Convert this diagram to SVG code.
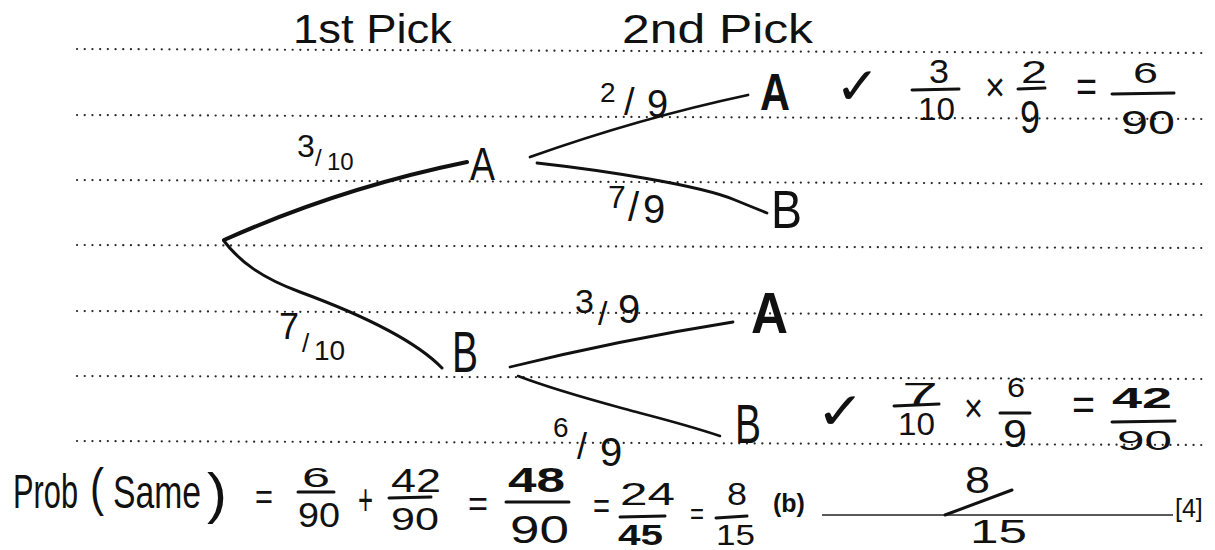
<svg xmlns="http://www.w3.org/2000/svg" width="1215" height="550" viewBox="0 0 1215 550">
<style>
.dot{stroke:#2a2a2a;stroke-width:2.2;stroke-linecap:round;stroke-dasharray:0.1 7.6;fill:none}
.br{stroke:#111;fill:none;stroke-linecap:round;stroke-linejoin:round}
.hw{font-family:"Liberation Sans",Arial,sans-serif;fill:#111}
.bar{stroke:#111;stroke-width:3;stroke-linecap:round}
.pr{font-family:"Liberation Sans",Arial,sans-serif;fill:#111}
.ck{font-family:"DejaVu Sans",sans-serif;fill:#111}
</style>
<rect width="1215" height="550" fill="#ffffff"/>
<g id="ruled-lines">
<line class="dot" x1="77" y1="49" x2="1202" y2="53"/>
<line class="dot" x1="77" y1="115" x2="1202" y2="119"/>
<line class="dot" x1="77" y1="180" x2="1202" y2="184"/>
<line class="dot" x1="77" y1="245" x2="1202" y2="248"/>
<line class="dot" x1="77" y1="311" x2="1202" y2="315"/>
<line class="dot" x1="77" y1="376" x2="1202" y2="379"/>
<line class="dot" x1="77" y1="441" x2="1202" y2="445"/>
</g>
<g id="headings">
<text class="hw" x="293" y="43" font-size="41" textLength="159" lengthAdjust="spacingAndGlyphs">1st Pick</text>
<text class="hw" x="622" y="43" font-size="41" textLength="191" lengthAdjust="spacingAndGlyphs">2nd Pick</text>
</g>
<g id="connectors">
<path class="br" stroke-width="4" d="M224,240 Q340,188 467,162"/>
<path class="br" stroke-width="3" d="M224,241 C240,262 262,278 300,292 S410,335 442,368"/>
<path class="br" stroke-width="2.8" d="M530,157 Q640,118 748,95"/>
<path class="br" stroke-width="2.8" d="M537,163 C600,170 700,185 735,200 Q752,207 767,213"/>
<path class="br" stroke-width="2.8" d="M510,367 Q620,340 733,322"/>
<path class="br" stroke-width="2.5" d="M518,376 C560,392 600,402 640,413 Q690,426 720,436"/>
<text class="hw"><tspan x="297" y="157" font-size="32">3</tspan><tspan x="315" y="166" font-size="24">/</tspan><tspan x="327" y="170" font-size="24">10</tspan></text>
<text class="hw"><tspan x="279" y="339" font-size="36">7</tspan><tspan x="302" y="352" font-size="26">/</tspan><tspan x="314" y="360" font-size="28">10</tspan></text>
<text class="hw"><tspan x="600" y="102" font-size="28">2</tspan><tspan x="624" y="115" font-size="38">/</tspan><tspan x="647" y="117" font-size="38">9</tspan></text>
<text class="hw"><tspan x="608" y="208" font-size="32">7</tspan><tspan x="628" y="221" font-size="40">/</tspan><tspan x="643" y="223" font-size="40">9</tspan></text>
<text class="hw"><tspan x="575" y="313" font-size="34">3</tspan><tspan x="598" y="325" font-size="34">/</tspan><tspan x="618" y="323" font-size="40">9</tspan></text>
<text class="hw"><tspan x="553" y="437" font-size="28">6</tspan><tspan x="577" y="459" font-size="36">/</tspan><tspan x="600" y="466" font-size="40">9</tspan></text>
</g>
<g id="node-A1"><text class="hw" x="470" y="180" font-size="46" textLength="25" lengthAdjust="spacingAndGlyphs">A</text></g>
<g id="node-B1"><text class="hw" x="452" y="372" font-size="58" textLength="26" lengthAdjust="spacingAndGlyphs">B</text></g>
<g id="node-A2"><text class="hw" x="760" y="110" font-size="52" font-weight="bold" textLength="30" lengthAdjust="spacingAndGlyphs">A</text></g>
<g id="node-B2"><text class="hw" x="771" y="228" font-size="54" textLength="31" lengthAdjust="spacingAndGlyphs">B</text></g>
<g id="node-A3"><text class="hw" x="751" y="333" font-size="58" font-weight="bold" textLength="37" lengthAdjust="spacingAndGlyphs">A</text></g>
<g id="node-B3"><text class="hw" x="735" y="443" font-size="56" textLength="26" lengthAdjust="spacingAndGlyphs">B</text></g>
<g id="calc-AA">
<text class="ck" x="835" y="104" font-size="52" textLength="45" lengthAdjust="spacingAndGlyphs">✓</text>
<text class="hw" x="929" y="83" font-size="33" textLength="20" lengthAdjust="spacingAndGlyphs">3</text>
<line class="bar" x1="912" y1="90" x2="959" y2="89"/>
<text class="hw" x="918" y="120" font-size="31" textLength="37" lengthAdjust="spacingAndGlyphs">10</text>
<text class="hw" x="985" y="101" font-size="40" textLength="20" lengthAdjust="spacingAndGlyphs">×</text>
<text class="hw" x="1021" y="83" font-size="31" textLength="26" lengthAdjust="spacingAndGlyphs">2</text>
<line class="bar" x1="1018" y1="89" x2="1045" y2="88"/>
<text class="hw" x="1020" y="133" font-size="46" textLength="20" lengthAdjust="spacingAndGlyphs">9</text>
<text class="hw" x="1076" y="102" font-size="44" textLength="21" lengthAdjust="spacingAndGlyphs">=</text>
<text class="hw" x="1133" y="83" font-size="30" textLength="25" lengthAdjust="spacingAndGlyphs">6</text>
<line class="bar" stroke-width="3.5" x1="1112" y1="94" x2="1174" y2="93"/>
<text class="hw" x="1121" y="134" font-size="34" textLength="54" lengthAdjust="spacingAndGlyphs">90</text>
</g>
<g id="calc-BB">
<text class="ck" x="816" y="429" font-size="52" textLength="49" lengthAdjust="spacingAndGlyphs">✓</text>
<text class="hw" x="902" y="405" font-size="31" textLength="36" lengthAdjust="spacingAndGlyphs">7</text>
<line class="bar" x1="894" y1="406" x2="939" y2="404"/>
<text class="hw" x="898" y="435" font-size="31" textLength="37" lengthAdjust="spacingAndGlyphs">10</text>
<text class="hw" x="964" y="422" font-size="40" textLength="19" lengthAdjust="spacingAndGlyphs">×</text>
<text class="hw" x="1007" y="397" font-size="28" textLength="18" lengthAdjust="spacingAndGlyphs">6</text>
<line class="bar" x1="1000" y1="413" x2="1030" y2="413"/>
<text class="hw" x="1003" y="447" font-size="38" textLength="24" lengthAdjust="spacingAndGlyphs">9</text>
<text class="hw" x="1072" y="420" font-size="44" textLength="23" lengthAdjust="spacingAndGlyphs">=</text>
<text class="hw" x="1112" y="408" font-size="30" font-weight="bold" textLength="60" lengthAdjust="spacingAndGlyphs">42</text>
<line class="bar" stroke-width="3.5" x1="1112" y1="422" x2="1175" y2="421"/>
<text class="hw" x="1117" y="450" font-size="28" textLength="55" lengthAdjust="spacingAndGlyphs">90</text>
</g>
<g id="final-sum">
<text class="hw"><tspan x="13" y="508" font-size="48" textLength="65" lengthAdjust="spacingAndGlyphs">Prob</tspan><tspan x="90" y="505" font-size="52" textLength="14" lengthAdjust="spacingAndGlyphs">(</tspan><tspan x="113" y="508" font-size="46" textLength="88" lengthAdjust="spacingAndGlyphs">Same</tspan><tspan x="207" y="512" font-size="56" textLength="20" lengthAdjust="spacingAndGlyphs">)</tspan></text>
<text class="hw" x="255" y="509" font-size="36" textLength="18" lengthAdjust="spacingAndGlyphs">=</text>
<text class="hw" x="302" y="487" font-size="28" textLength="28" lengthAdjust="spacingAndGlyphs">6</text>
<line class="bar" x1="298" y1="492" x2="334" y2="492"/>
<text class="hw" x="298" y="527" font-size="35" textLength="42" lengthAdjust="spacingAndGlyphs">90</text>
<text class="hw" x="358" y="515" font-size="44" textLength="15" lengthAdjust="spacingAndGlyphs">+</text>
<text class="hw" x="391" y="492" font-size="33" textLength="50" lengthAdjust="spacingAndGlyphs">42</text>
<line class="bar" x1="389" y1="498" x2="431" y2="497"/>
<text class="hw" x="391" y="530" font-size="31" textLength="48" lengthAdjust="spacingAndGlyphs">90</text>
<text class="hw" x="468" y="516" font-size="36" textLength="20" lengthAdjust="spacingAndGlyphs">=</text>
<text class="hw" x="508" y="492" font-size="35" font-weight="bold" textLength="57" lengthAdjust="spacingAndGlyphs">48</text>
<line class="bar" stroke-width="3.5" x1="506" y1="502" x2="569" y2="502"/>
<text class="hw" x="510" y="543" font-size="38" textLength="59" lengthAdjust="spacingAndGlyphs">90</text>
<text class="hw" x="593" y="518" font-size="36" textLength="17" lengthAdjust="spacingAndGlyphs">=</text>
<text class="hw" x="620" y="505" font-size="31" textLength="55" lengthAdjust="spacingAndGlyphs">24</text>
<line class="bar" x1="620" y1="517" x2="665" y2="516"/>
<text class="hw" x="618" y="545" font-size="30" font-weight="bold" textLength="45" lengthAdjust="spacingAndGlyphs">45</text>
<text class="hw" x="690" y="524" font-size="30" textLength="14" lengthAdjust="spacingAndGlyphs">=</text>
<text class="hw" x="727" y="505" font-size="31" textLength="20" lengthAdjust="spacingAndGlyphs">8</text>
<line class="bar" x1="716" y1="518" x2="747" y2="516"/>
<text class="hw" x="716" y="545" font-size="29" textLength="39" lengthAdjust="spacingAndGlyphs">15</text>
</g>
<g id="answer">
<text class="pr" x="773" y="512" font-size="25" font-weight="bold">(b)</text>
<line x1="822" y1="515" x2="1173" y2="515" stroke="#222" stroke-width="1.6"/>
<text class="hw" x="965" y="493" font-size="36" textLength="25" lengthAdjust="spacingAndGlyphs">8</text>
<line class="bar" stroke-width="4" x1="945" y1="515" x2="1012" y2="490"/>
<text class="hw" x="970" y="543" font-size="34" textLength="57" lengthAdjust="spacingAndGlyphs">15</text>
<text class="pr" x="1175" y="517" font-size="25">[4]</text>
</g>
</svg>
